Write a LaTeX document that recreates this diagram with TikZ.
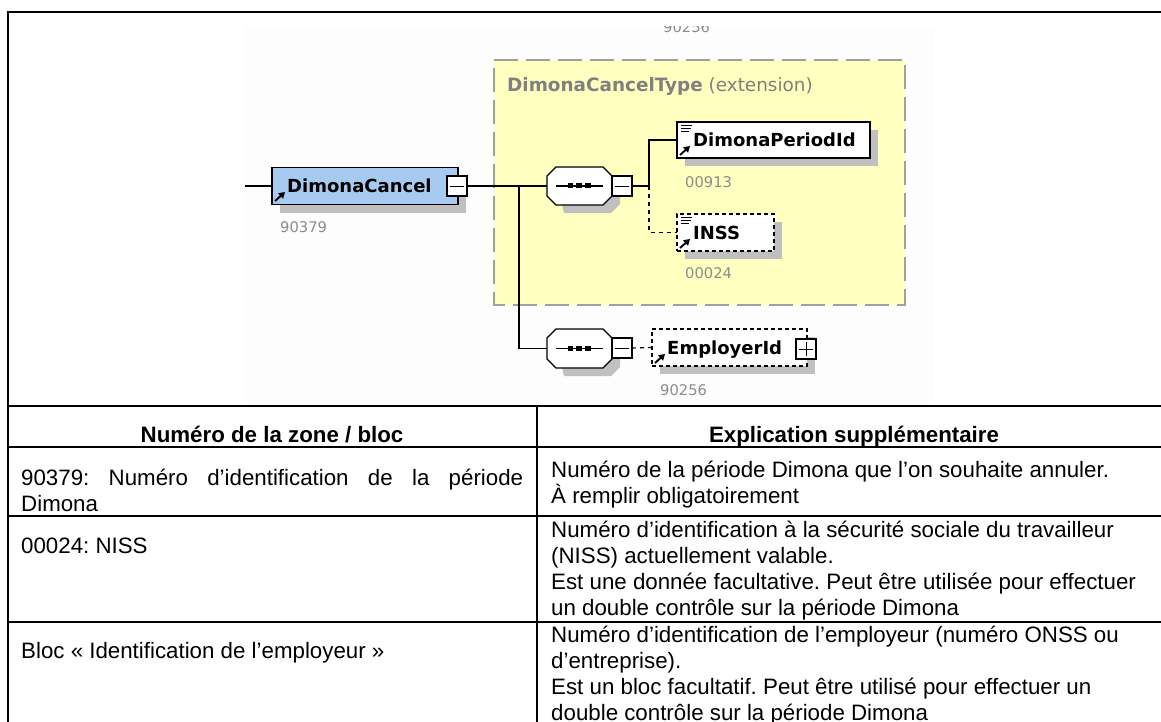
\documentclass[tikz,border=0pt]{standalone}
\usepackage{fontspec}
\setmainfont[Ligatures=ResetAll]{Liberation Sans}
\newfontfamily\diag{DejaVu Sans}
\usetikzlibrary{arrows.meta}
\definecolor{shadowgrey}{HTML}{C0C0C0}
\definecolor{lab}{HTML}{8C8C8C}
\definecolor{typeyellow}{HTML}{FFFFC0}
\definecolor{elblue}{HTML}{A6CAF0}
\definecolor{typegrey}{HTML}{A0A0A0}
\definecolor{titlegrey}{HTML}{808080}
\definecolor{faintbg}{HTML}{FDFDFD}
\tikzset{
 x=1pt,y=-1pt,
 wire/.style={line width=1.1pt,black},
 dwire/.style={wire,dash pattern=on 4pt off 4pt},
 elbox/.style={draw=black,line width=1.1pt,inner sep=0pt,outer sep=0pt},
 etitle/.style={anchor=base west,inner sep=0pt,font=\diag\bfseries\fontsize{18}{20}\selectfont},
 idlab/.style={anchor=base west,inner sep=0pt,text=lab,font=\diag\fontsize{14.7}{16}\selectfont},
 cell/.style={anchor=base west,inner sep=0pt,font=\frenchspacing\fontsize{22.3}{26}\selectfont},
 head/.style={anchor=base,inner sep=0pt,font=\bfseries\fontsize{22.3}{26}\selectfont},
 tline/.style={line width=1.7pt,black},
}
\newcommand{\shadowbox}[4]{\fill[shadowgrey] (#1+8,#2+8) rectangle (#3+8,#4+8);}
\newcommand{\elicon}[2]{%
 \draw[line width=1.9pt,-{Triangle[length=6pt,width=7pt]}] (#1+3,#2-3) -- (#1+13,#2-12);}
\newcommand{\doclines}[2]{%
 \draw[line width=1pt] (#1+3.5,#2+3.5) -- (#1+14.5,#2+3.5) (#1+3.5,#2+6.5) -- (#1+13.5,#2+6.5) (#1+3.5,#2+9.5) -- (#1+11.5,#2+9.5);}
\newcommand{\octa}[4]{%
 \fill[shadowgrey] (#2+8,#3+8) -- (#2+57,#3+8) -- (#2+73,#3+17) -- (#2+73,#4-1) -- (#2+64,#4+8) -- (#2+17,#4+8) -- cycle;
 \draw[line width=1.1pt,fill=white] (#2+9,#3) -- (#2+56,#3) -- (#2+65,#3+9) -- (#2+65,#4-9) -- (#2+56,#4) -- (#2+9,#4) -- (#2,#4-9) -- (#2,#3+9) -- cycle;
 \coordinate (#1l) at (#2,{(#3+#4)/2});
 \draw[wire] (#2+9,{(#3+#4)/2}) -- (#2+56,{(#3+#4)/2});
 \fill (#2+21,{(#3+#4)/2-2.5}) rectangle (#2+26,{(#3+#4)/2+2.5});
 \fill (#2+29,{(#3+#4)/2-2.5}) rectangle (#2+35,{(#3+#4)/2+2.5});
 \fill (#2+38,{(#3+#4)/2-2.5}) rectangle (#2+44,{(#3+#4)/2+2.5});}
\newcommand{\toggle}[4]{%
 \draw[line width=1.1pt,fill=white] (#2,#3) rectangle (#2+20,#3+20);
 \draw[line width=.8pt] (#2+3,#3+10) -- (#2+17,#3+10);
 \ifnum#4=1 \draw[line width=.8pt] (#2+10,#3+3) -- (#2+10,#3+17);\fi
 \coordinate (#1r) at (#2+20,#3+10);}
\begin{document}
\begin{tikzpicture}
\useasboundingbox (0,0) rectangle (1161,722);
\fill[white] (0,0) rectangle (1161,722);
\fill[faintbg] (245,27) rectangle (934,404);
\begin{scope}
\clip (600,27) rectangle (760,40);
\node[idlab] (cut) at (663,32.5) {90256};
\end{scope}
\fill[typeyellow] (494,60) rectangle (905,305);
\draw[typegrey,line width=1.8pt,dash pattern=on 24pt off 8pt] (494,60) -- (905,60) -- (905,305) -- (494,305) -- cycle;
\node[anchor=base west,inner sep=0pt,text=titlegrey,font=\diag\fontsize{18.4}{20}\selectfont] (typet) at (507,92) {\textbf{DimonaCancelType} (extension)};
\coordinate (start) at (245,186);
\shadowbox{272}{167.5}{458}{204.5}
\node[elbox,fill=elblue,minimum width=186pt,minimum height=37pt,anchor=north west] (root) at (272,167.5) {};
\node[etitle] (roott) at (287,193) {DimonaCancel};
\elicon{272}{204}
\toggle{rootm}{447}{176}{0}
\node[idlab] (id1) at (280,232) {90379};
\octa{s1}{547}{167}{205}
\toggle{s1m}{612}{176}{0}
\octa{s2}{547}{329}{368}
\toggle{s2m}{612}{338}{0}
\shadowbox{677}{122}{870}{158}
\node[elbox,fill=white,minimum width=193pt,minimum height=36pt,anchor=north west] (per) at (677,122) {};
\doclines{677}{122}
\elicon{677}{158}
\node[etitle] (pert) at (693,147) {DimonaPeriodId};
\node[idlab] (id2) at (685,187) {00913};
\shadowbox{677}{214}{774}{251}
\node[elbox,fill=white,dash pattern=on 4pt off 3pt,minimum width=97pt,minimum height=37pt,anchor=north west] (inss) at (677,214) {};
\doclines{677}{214}
\elicon{677}{251}
\node[etitle] (insst) at (693,239) {INSS};
\node[idlab] (id3) at (685,278) {00024};
\shadowbox{652}{329}{807}{366}
\node[elbox,fill=white,dash pattern=on 4pt off 3pt,minimum width=155pt,minimum height=37pt,anchor=north west] (emp) at (652,329) {};
\elicon{652}{366}
\node[etitle] (empt) at (667,354) {EmployerId};
\toggle{empp}{796}{339}{1}
\node[idlab] (id4) at (660,395) {90256};
\draw[wire] (start) -- (root.west);
\draw[wire] (rootmr) -- (s1l);
\draw[wire] (519,186) |- (s2l);
\draw[wire] (s1mr) -- (649,186) |- (per.west);
\draw[dwire] (649,186) |- (inss.west);
\draw[dwire] (s2mr) -- (emp.west);
\draw[tline] (7.7,722) -- (7.7,12) -- (1161,12);
\draw[tline] (7.7,406) -- (1161,406);
\draw[tline] (7.7,447) -- (1161,447);
\draw[tline] (7.7,516) -- (1161,516);
\draw[tline] (7.7,622) -- (1161,622);
\draw[tline] (537,406) -- (537,722);
\node[head] (h1) at (272,442) {Numéro de la zone / bloc};
\node[head] (h2) at (854,442) {Explication supplémentaire};
\node[cell] (c1) at (21,485) {\parbox[t]{502pt}{\frenchspacing 90379: Numéro d’identification de la période\linebreak Dimona}};
\node[cell] (c2) at (21,553) {00024: NISS};
\node[cell] (c3) at (21,658) {Bloc « Identification de l'employeur »};
\node[cell] (d1) at (551,477) {\parbox[t]{600pt}{\frenchspacing Numéro de la période Dimona que l’on souhaite annuler.\\À remplir obligatoirement}};
\node[cell] (d2) at (551,537) {\parbox[t]{600pt}{\frenchspacing Numéro d’identification à la sécurité sociale du travailleur\\(NISS) actuellement valable.\\Est une donnée facultative. Peut être utilisée pour effectuer\\un double contrôle sur la période Dimona}};
\node[cell] (d3) at (551,642) {\parbox[t]{600pt}{\frenchspacing Numéro d’identification de l’employeur (numéro ONSS ou\\d’entreprise).\\Est un bloc facultatif. Peut être utilisé pour effectuer un\\double contrôle sur la période Dimona}};
\end{tikzpicture}
\end{document}
